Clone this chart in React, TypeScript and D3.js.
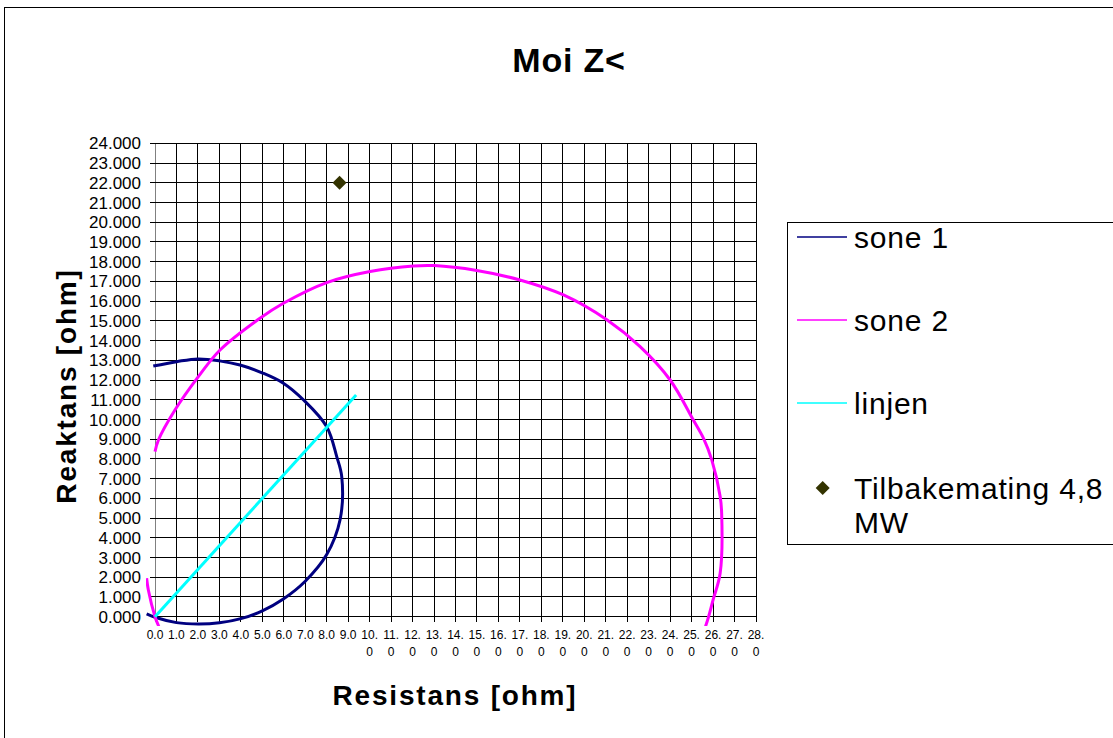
import React from 'react';
import * as d3 from 'd3';

const width = 1113;
const height = 738;
const font = 'Liberation Sans, Arial, Helvetica, sans-serif';

// R (ohm) and X (ohm)
const sone1R = [-0.39, 0.0, 1.0, 2.02, 3.0, 4.0, 5.0, 5.98, 7.0, 8.0, 8.62, 8.7, 8.47, 8.0, 6.91, 5.98, 5.05, 3.96, 3.0, 2.0, 1.01, -0.08];
const sone1X = [0.14, -0.03, -0.3, -0.37, -0.31, -0.1, 0.3, 0.9, 1.8, 3.15, 4.9, 7.1, 8.1, 9.63, 11.0, 11.84, 12.34, 12.76, 12.97, 13.07, 12.93, 12.71];

const sone2R = [0, 0.16, 0.93, 2.02, 3.03, 4.89, 5.98, 8.0, 10.02, 12.04, 13.0, 14.99, 17.0, 19.03, 21.05, 22.6, 24.0, 25.08, 25.55, 25.94, 26.33, 26.4, 26.33, 26.0, 25.67, 24.5, 13.0, 1.5, 0.15, 0.0, -0.31, -0.39];
const sone2X = [8.37, 8.96, 10.48, 12.17, 13.52, 15.13, 15.89, 16.94, 17.5, 17.78, 17.8, 17.55, 17.07, 16.31, 15.05, 13.69, 12.0, 9.97, 9.05, 7.95, 6.09, 5.24, 2.2, 0.85, -0.42, -3.5, -9.0, -3.5, -0.42, 0.0, 1.35, 1.95];

const linjenR = [0, 9.37];
const linjenX = [0, 11.24];

const tilbakeR = [8.6];
const tilbakeX = [22.0];

const xTicks = d3.range(0, 29, 1);
const yTicks = d3.range(0, 25, 1);

const series = [
  {name: 'sone 1', color: '#000080'},
  {name: 'sone 2', color: '#FF00FF'},
  {name: 'linjen', color: '#00FFFF'},
];

const x = d3.scaleLinear().domain([0, 28]).range([155, 756]);
const y = d3.scaleLinear().domain([0, 24]).range([616.7, 143.3]);

const zip = (a: number[], b: number[]) => a.map((v, i) => [v, b[i]] as [number, number]);

const line = d3
  .line<[number, number]>()
  .x(d => x(d[0]))
  .y(d => y(d[1]))
  .curve(d3.curveCatmullRom.alpha(0.5));

const fmtX = d3.format('.1f');
const fmtY = d3.format('.3f');

// square turned 45 degrees, like the office marker
const diamond = 'M0,-7L7,0L0,7L-7,0Z';

export default function App() {
  const legendY = [237, 320, 403];
  return (
    <svg width={width} height={height} style={{position: 'absolute', left: 0, top: 0, background: '#fff'}} fontFamily={font}>
      <defs>
        <clipPath id="plot">
          <rect x={146} y={138} width={616} height={488} />
        </clipPath>
      </defs>
      <rect x={4.5} y={7.5} width={width + 10} height={height + 10} fill="#fff" stroke="#000" strokeWidth={1} />

      <text x={569} y={72} textAnchor="middle" fontSize={34} fontWeight="bold" letterSpacing={0.8}>Moi Z&lt;</text>

      {/* grid */}
      <g stroke="#000" strokeWidth={1} shapeRendering="crispEdges">
        {xTicks.map(t => (
          <line key={'gx' + t} x1={x(t)} x2={x(t)} y1={y(24)} y2={y(0) + 5} stroke={t === 0 ? '#808080' : '#000'} />
        ))}
        {yTicks.map(t => (
          <line key={'gy' + t} x1={x(0) - 5} x2={x(28)} y1={y(t)} y2={y(t)} />
        ))}
      </g>

      {/* y tick labels */}
      <g fontSize={17} textAnchor="end">
        {yTicks.map(t => (
          <text key={'ty' + t} x={141} y={y(t)} dy="0.36em">{fmtY(t)}</text>
        ))}
      </g>

      {/* x tick labels, wrapped like the original */}
      <g fontSize={12} textAnchor="middle">
        {xTicks.map(t => {
          const s = fmtX(t);
          const dot = s.indexOf('.');
          const parts = s.length > 3 ? [s.slice(0, dot + 1), s.slice(dot + 1)] : [s];
          return (
            <text key={'tx' + t} x={x(t)} y={639}>
              {parts.map((p, i) => (
                <tspan key={i} x={x(t)} dy={i === 0 ? 0 : 17}>{p}</tspan>
              ))}
            </text>
          );
        })}
      </g>

      <text transform="translate(76,386) rotate(-90)" textAnchor="middle" fontSize={28} fontWeight="bold" letterSpacing={1.8}>Reaktans [ohm]</text>
      <text x={455} y={705} textAnchor="middle" fontSize={28} fontWeight="bold" letterSpacing={1.8}>Resistans [ohm]</text>

      {/* series */}
      <g clipPath="url(#plot)" fill="none" strokeWidth={3} strokeLinejoin="round">
        <path d={line(zip(sone1R, sone1X)) || ''} stroke={series[0].color} />
        <path d={line(zip(sone2R, sone2X)) || ''} stroke={series[1].color} />
        <path d={line(zip(linjenR, linjenX)) || ''} stroke={series[2].color} />
      </g>
      {zip(tilbakeR, tilbakeX).map((d, i) => (
        <path key={'pt' + i} d={diamond} transform={`translate(${x(d[0])},${y(d[1])})`} fill="#333300" />
      ))}

      {/* legend */}
      <rect x={787.5} y={222.5} width={400} height={322} fill="#fff" stroke="#000" strokeWidth={1} />
      {series.map((s, i) => (
        <g key={s.name}>
          <line x1={797} x2={847} y1={legendY[i]} y2={legendY[i]} stroke={s.color} strokeWidth={1.5} />
          <text x={854} y={legendY[i]} dy="0.36em" fontSize={30} letterSpacing={0.8}>{s.name}</text>
        </g>
      ))}
      <path d={diamond} transform="translate(822.7,488)" fill="#333300" />
      <text x={854} y={488} dy="0.36em" fontSize={30} letterSpacing={0.8}>Tilbakemating 4,8</text>
      <text x={854} y={522} dy="0.36em" fontSize={30} letterSpacing={0.8}>MW</text>
    </svg>
  );
}
